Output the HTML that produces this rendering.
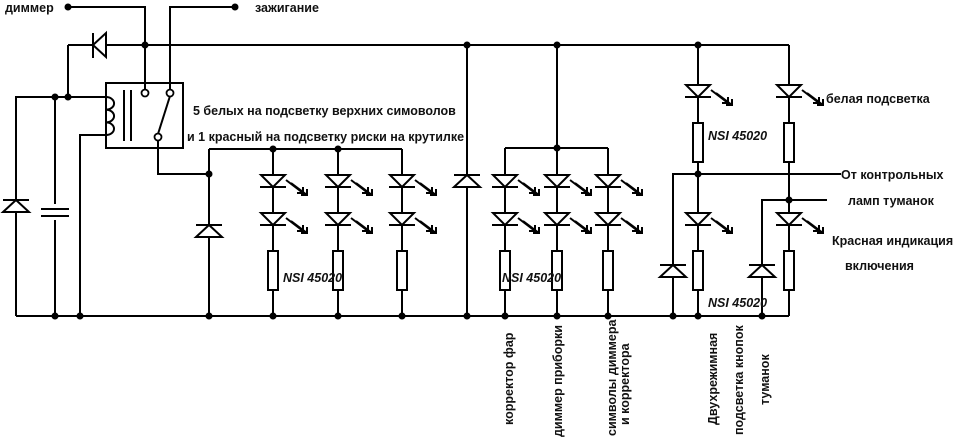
<!DOCTYPE html>
<html><head><meta charset="utf-8">
<style>
html,body{margin:0;padding:0;background:#fff;}
svg{display:block;}
text{font-family:"Liberation Sans",sans-serif;font-weight:bold;font-size:12.5px;fill:#111;}
.it{font-style:italic;}
</style></head><body>
<svg width="960" height="447" viewBox="0 0 960 447" xmlns="http://www.w3.org/2000/svg">
<defs>
<g id="led" stroke="#000" stroke-width="2" fill="#fff">
<polygon points="-12,0 12,0 0,12"/>
<line x1="-13" y1="12" x2="13" y2="12"/>
<g fill="none" stroke-width="2">
<line x1="13" y1="5" x2="30" y2="18"/><polyline points="24,18 30,18 30,12"/>
<line x1="18" y1="8" x2="34" y2="20"/><polyline points="28,20 34,20 34,14"/>
</g>
</g>
<g id="dup" stroke="#000" stroke-width="2" fill="#fff">
<polygon points="-13,12 13,12 0,0"/>
<line x1="-13" y1="0" x2="13" y2="0"/>
</g>
<g id="res" stroke="#000" stroke-width="2" fill="#fff">
<rect x="-5" y="0" width="10" height="39"/>
</g>
</defs>
<g stroke="#000" stroke-width="2" fill="none">
<polyline points="68,7 145,7 145,90"/>
<polyline points="235,7 170,7 170,90"/>
<line x1="68" y1="45" x2="789" y2="45"/>
<polyline points="68,45 68,97"/>
<polyline points="16,316 16,97 106,97"/>
<line x1="55" y1="97" x2="55" y2="316"/>
<polyline points="106,135 80,135 80,316"/>
<line x1="16" y1="316" x2="789" y2="316"/>
<line x1="789" y1="45" x2="789" y2="316"/>
<rect x="106" y="83" width="77" height="65"/>
<path d="M106,97 a8,6.3 0 0 1 0,12.7 a8,6.3 0 0 1 0,12.7 a8,6.3 0 0 1 0,12.6"/>
<line x1="124" y1="90" x2="124" y2="141"/>
<line x1="131" y1="90" x2="131" y2="141"/>
<line x1="158" y1="134" x2="170" y2="96"/>
<polyline points="158,140 158,174 209,174"/>
<line x1="209" y1="149" x2="209" y2="316"/>
<line x1="209" y1="149" x2="402" y2="149"/>
<line x1="273" y1="149" x2="273" y2="316"/>
<line x1="338" y1="149" x2="338" y2="316"/>
<line x1="402" y1="149" x2="402" y2="316"/>
<line x1="467" y1="45" x2="467" y2="316"/>
<line x1="557" y1="45" x2="557" y2="316"/>
<line x1="505" y1="148" x2="608" y2="148"/>
<line x1="505" y1="148" x2="505" y2="316"/>
<line x1="608" y1="148" x2="608" y2="316"/>
<line x1="698" y1="45" x2="698" y2="316"/>
<polyline points="673,316 673,174 841,174"/>
<polyline points="762,316 762,200 827,200"/>
</g>
<g stroke="#000" stroke-width="2" fill="#fff">
<polygon points="93,45 106,33 106,57"/>
<line x1="93" y1="33" x2="93" y2="58"/>
</g>
<g stroke="#000" stroke-width="1.8" fill="#fff">
<circle cx="145" cy="93" r="3.5"/><circle cx="170" cy="93" r="3.5"/><circle cx="158" cy="137" r="3.5"/>
</g>
<rect x="40" y="204" width="30" height="16" fill="#fff"/>
<g stroke="#000" stroke-width="2"><line x1="41" y1="209" x2="69" y2="209"/><line x1="41" y1="216" x2="69" y2="216"/></g>
<use href="#dup" x="16" y="200"/>
<use href="#dup" x="209" y="225"/>
<use href="#dup" x="467" y="175"/>
<use href="#dup" x="673" y="265"/>
<use href="#dup" x="762" y="265"/>
<use href="#led" x="273" y="175"/><use href="#led" x="273" y="213"/>
<use href="#led" x="338" y="175"/><use href="#led" x="338" y="213"/>
<use href="#led" x="402" y="175"/><use href="#led" x="402" y="213"/>
<use href="#led" x="505" y="175"/><use href="#led" x="505" y="213"/>
<use href="#led" x="557" y="175"/><use href="#led" x="557" y="213"/>
<use href="#led" x="608" y="175"/><use href="#led" x="608" y="213"/>
<use href="#led" x="698" y="85"/><use href="#led" x="698" y="213"/>
<use href="#led" x="789" y="85"/><use href="#led" x="789" y="213"/>
<use href="#res" x="273" y="251"/><use href="#res" x="338" y="251"/><use href="#res" x="402" y="251"/>
<use href="#res" x="505" y="251"/><use href="#res" x="557" y="251"/><use href="#res" x="608" y="251"/>
<use href="#res" x="698" y="251"/><use href="#res" x="789" y="251"/>
<use href="#res" x="698" y="123"/><use href="#res" x="789" y="123"/>
<g fill="#000">
<circle cx="68" cy="7" r="3.5"/><circle cx="235" cy="7" r="3.5"/>
<circle cx="145" cy="45" r="3.5"/><circle cx="467" cy="45" r="3.5"/><circle cx="557" cy="45" r="3.5"/><circle cx="698" cy="45" r="3.5"/>
<circle cx="55" cy="97" r="3.5"/><circle cx="68" cy="97" r="3.5"/>
<circle cx="209" cy="174" r="3.5"/><circle cx="273" cy="149" r="3.5"/><circle cx="338" cy="149" r="3.5"/>
<circle cx="557" cy="148" r="3.5"/><circle cx="698" cy="174" r="3.5"/><circle cx="789" cy="200" r="3.5"/>
<circle cx="55" cy="316" r="3.5"/><circle cx="80" cy="316" r="3.5"/><circle cx="209" cy="316" r="3.5"/>
<circle cx="273" cy="316" r="3.5"/><circle cx="338" cy="316" r="3.5"/><circle cx="402" cy="316" r="3.5"/>
<circle cx="467" cy="316" r="3.5"/><circle cx="505" cy="316" r="3.5"/><circle cx="557" cy="316" r="3.5"/>
<circle cx="608" cy="316" r="3.5"/><circle cx="673" cy="316" r="3.5"/><circle cx="698" cy="316" r="3.5"/>
<circle cx="762" cy="316" r="3.5"/>
</g>
<text x="5" y="12">диммер</text>
<text x="255" y="12">зажигание</text>
<text x="193" y="115">5 белых на подсветку верхних симоволов</text>
<text x="187" y="141">и 1 красный на подсветку риски на крутилке</text>
<text class="it" x="283" y="282">NSI 45020</text>
<text class="it" x="502" y="282">NSI 45020</text>
<text class="it" x="708" y="140">NSI 45020</text>
<text class="it" x="708" y="307">NSI 45020</text>
<text x="826" y="103">белая подсветка</text>
<text x="841" y="179">От контрольных</text>
<text x="848" y="205">ламп туманок</text>
<text x="832" y="245">Красная индикация</text>
<text x="845" y="270">включения</text>
<text transform="translate(513,425) rotate(-90)">корректор фар</text>
<text transform="translate(562,437) rotate(-90)">диммер приборки</text>
<text transform="translate(616,436) rotate(-90)">символы диммера</text>
<text transform="translate(629,425) rotate(-90)">и корректора</text>
<text transform="translate(717,425) rotate(-90)">Двухрежимная</text>
<text transform="translate(743,435) rotate(-90)">подсветка кнопок</text>
<text transform="translate(769,405) rotate(-90)">туманок</text>
</svg>
</body></html>
